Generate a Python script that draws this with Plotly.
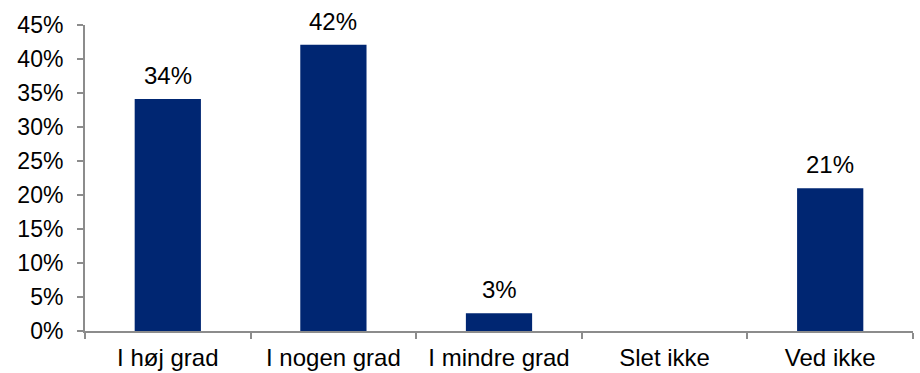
import plotly.graph_objects as go

categories = ["I høj grad", "I nogen grad", "I mindre grad", "Slet ikke", "Ved ikke"]
values = [34.1, 42.1, 2.6, 0, 21.0]
labels = ["34%", "42%", "3%", "", "21%"]
y_ticks = [0, 5, 10, 15, 20, 25, 30, 35, 40, 45]
y_tick_text = [f"{v}%" for v in y_ticks]

font = "Liberation Sans, Arial, sans-serif"

fig = go.Figure(go.Bar(
    x=categories, y=values,
    marker=dict(color="#002672", line=dict(width=0)),
    cliponaxis=False,
))
for c, v, t in zip(categories, values, labels):
    if t:
        fig.add_annotation(x=c, y=v, text=t, showarrow=False, yanchor="bottom",
                           yshift=8, font=dict(family=font, size=24, color="black"))
fig.update_layout(
    width=920, height=373,
    margin=dict(l=85, r=7, t=25, b=42),
    plot_bgcolor="white", paper_bgcolor="white",
    bargap=0.6, showlegend=False,
    font=dict(family=font, size=24, color="black"),
)
fig.update_yaxes(
    range=[0, 45], tickvals=y_ticks, ticktext=y_tick_text,
    showgrid=False, zeroline=False, automargin=False,
    showline=True, linecolor="#8c8c8c", linewidth=2,
    ticks="outside", ticklen=6, tickcolor="#8c8c8c", tickwidth=2,
    ticklabelstandoff=9,
    tickfont=dict(family=font, size=23, color="black"),
)
fig.update_xaxes(
    showgrid=False, showline=True, linecolor="#8c8c8c", linewidth=2,
    ticks="outside", tickson="boundaries", ticklen=6, tickcolor="#8c8c8c", tickwidth=2,
    ticklabelstandoff=4, automargin=False,
    tickfont=dict(family=font, size=24, color="black"),
)
fig.write_html("out.html", config={"displayModeBar": False},
               post_script="document.body.style.margin='0';")
